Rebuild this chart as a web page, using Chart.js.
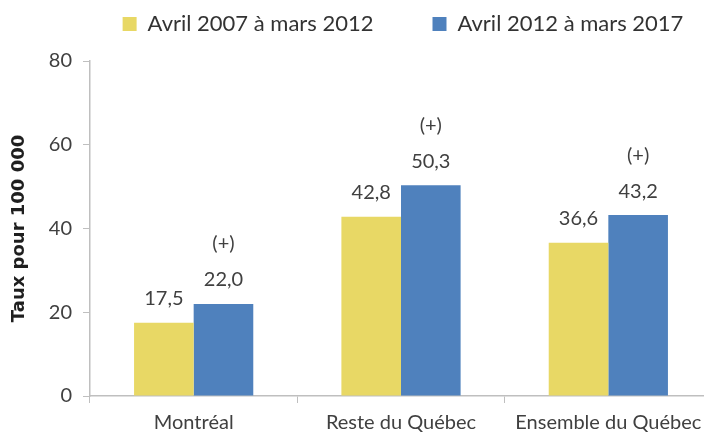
<!DOCTYPE html>
<html>
<head>
<meta charset="utf-8">
<script src="https://cdn.jsdelivr.net/npm/chart.js@4.4.1/dist/chart.umd.min.js"></script>
<style>
  html, body { margin: 0; padding: 0; background: #ffffff; overflow: hidden; width: 704px; height: 432px; }
  canvas { display: block; }
</style>
</head>
<body>
<canvas id="c" width="712" height="432"></canvas>
<script>
// ---- data ----
const categories = ['Montréal', 'Reste du Québec', 'Ensemble du Québec'];
const seriesLabels = ['Avril 2007 à mars 2012', 'Avril 2012 à mars 2017'];
const values2007 = [17.5, 42.8, 36.6];
const values2012 = [22.0, 50.3, 43.2];
const significance2012 = ['(+)', '(+)', '(+)'];
const yTicks = [0, 20, 40, 60, 80];
const yTitle = 'Taux pour 100 000';

const YELLOW = '#E8D865';
const BLUE = '#4F81BD';
const AXIS = '#BFBFBF';
const TEXT = '#404040';

const fmt = v => v.toFixed(1).replace('.', ',');

const valueLabels = {
  id: 'valueLabels',
  afterDatasetsDraw(chart) {
    const ctx = chart.ctx;
    ctx.save();
    ctx.font = '20px Lato';
    ctx.fillStyle = TEXT;
    ctx.textAlign = 'center';
    ctx.textBaseline = 'middle';
    chart.data.datasets.forEach((ds, i) => {
      const meta = chart.getDatasetMeta(i);
      meta.data.forEach((bar, j) => {
        ctx.fillText(fmt(ds.data[j]), bar.x, bar.y - 24);
        if (ds.annotations && ds.annotations[j]) {
          ctx.fillText(ds.annotations[j], bar.x, bar.y - 60);
        }
      });
    });
    ctx.restore();
  }
};

// extra space under the legend, and legend centred over the plot area
const legendSpace = {
  id: 'legendSpace',
  beforeInit(chart) {
    const origFit = chart.legend.fit;
    chart.legend.fit = function () {
      origFit.call(this);
      this.height += 16;
    };
  },
  afterLayout(chart) {
    const ca = chart.chartArea;
    const c = (ca.left + ca.right) / 2 + 2;
    chart.legend.left = c - 400;
    chart.legend.right = c + 400;
  }
};

new Chart(document.getElementById('c'), {
  type: 'bar',
  data: {
    labels: categories,
    datasets: [
      { label: seriesLabels[0], data: values2007, backgroundColor: YELLOW, borderWidth: 0 },
      { label: seriesLabels[1], data: values2012, backgroundColor: BLUE, borderWidth: 0, annotations: significance2012 }
    ]
  },
  options: {
    responsive: false,
    devicePixelRatio: 1,
    animation: false,
    layout: { padding: { top: -46, left: 0, right: 0, bottom: -11 } },
    datasets: { bar: { categoryPercentage: 0.575, barPercentage: 1.0 } },
    plugins: {
      tooltip: { enabled: false },
      legend: {
        position: 'top',
        fullSize: true,
        labels: {
          font: { family: 'Lato', size: 22 },
          color: '#333333',
          boxWidth: 14,
          boxHeight: 14,
          padding: 59
        }
      }
    },
    scales: {
      x: {
        grid: { display: true, drawOnChartArea: false, drawTicks: true, tickLength: 7, color: AXIS, offset: true },
        border: { display: true, color: AXIS, width: 1.5 },
        ticks: { font: { family: 'Lato', size: 20 }, color: TEXT, padding: 8, maxRotation: 0 }
      },
      y: {
        min: 0,
        max: 80,
        afterFit(scale) { scale.width = 90; },
        afterBuildTicks(scale) { scale.ticks = yTicks.map(v => ({ value: v })); },
        grid: { display: true, drawOnChartArea: false, drawTicks: true, tickLength: 7, color: AXIS },
        border: { display: true, color: AXIS, width: 1.5 },
        ticks: { font: { family: 'Lato', size: 20 }, color: TEXT, padding: 11 },
        title: {
          display: true,
          text: yTitle,
          font: { family: 'DejaVu Sans', size: 18, weight: 'bold' },
          color: '#1F1F1F',
          padding: { top: 9, bottom: 0 }
        }
      }
    }
  },
  plugins: [valueLabels, legendSpace]
});
</script>
</body>
</html>
